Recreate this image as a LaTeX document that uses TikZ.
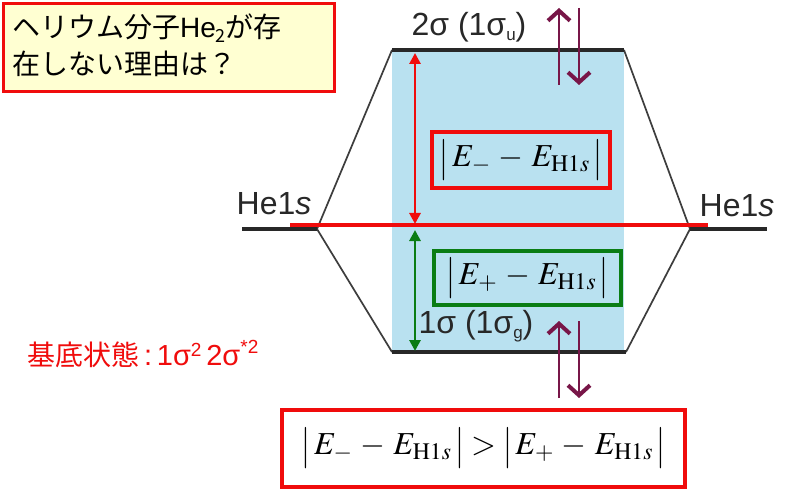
\documentclass[tikz,border=0pt]{standalone}
\usepackage{mathptmx}
\usepackage{graphicx}
\usepackage{fontspec}
\newfontfamily\jp{Noto Sans CJK JP}
\newfontfamily\arial{Liberation Sans}
\usetikzlibrary{arrows.meta}
\definecolor{boxred}{RGB}{240,12,12}
\definecolor{skyfill}{RGB}{185,225,240}
\definecolor{notefill}{RGB}{255,255,210}
\definecolor{levelgray}{RGB}{40,40,40}
\definecolor{elec}{RGB}{120,22,72}
\definecolor{grn}{RGB}{10,125,20}
\tikzset{
  level/.style={draw=levelgray,line width=3.8pt},
  slant/.style={draw=levelgray!90,line width=1.7pt},
  redline/.style={draw=boxred,line width=3.4pt},
  redarrow/.style={draw=boxred,line width=2.8pt,{Triangle[length=11pt,width=11pt]}-{Triangle[length=11pt,width=11pt]}},
  greenarrow/.style={draw=grn,line width=2.8pt,{Triangle[length=11pt,width=11pt]}-{Triangle[length=11pt,width=11pt]}},
  electron/.style={draw=elec,line width=2.4pt,-{Straight Barb[length=10pt,width=22pt,line width=4pt]}},
  mathbox/.style={draw=#1,line width=3.6pt,inner sep=0pt,font=\fontsize{32}{38}\selectfont},
  mlabel/.style={text=levelgray,font=\arial\fontsize{32}{36}\selectfont,inner sep=0pt},
}
\newcommand{\subsm}[1]{\raisebox{-0.3ex}{\fontsize{17}{17}\selectfont #1}}
\newcommand{\vbar}{\raisebox{-0.12em}{\scalebox{1}[1.3]{$\vert$}}}
\newcommand{\gapexpr}[1]{\vbar\,E_{#1}\,-\,E_{\mathrm{H1}s}\,\vbar}
\begin{document}
\begin{tikzpicture}[x=1pt,y=-1pt]
\useasboundingbox (0,0) rectangle (787,489);
\fill[white] (0,0) rectangle (787,489);
% blue band
\fill[skyfill] (392,50) rectangle (624,352);
% coordinates
\coordinate (TL) at (392,50);
\coordinate (TR) at (624,50);
\coordinate (BL) at (392,352);
\coordinate (BR) at (626,352);
\coordinate (LV) at (317,229);
\coordinate (RV) at (690,229);
\coordinate (LE) at (242,229);
\coordinate (RE) at (767,229);
\coordinate (RL1) at (290,225);
\coordinate (RL2) at (708,225);
% slanted correlation lines
\draw[slant] (TL) -- (LV) -- (BL);
\draw[slant] (TR) -- (RV) -- (BR);
% levels
\draw[level] (TL) -- (TR);
\draw[level] (BL) -- (BR);
\draw[level] (LE) -- (LV);
\draw[level] (RV) -- (RE);
% red reference line
\draw[redline] (RL1) -- (RL2);
% energy gap arrows
\coordinate (RA1) at (415,53);
\coordinate (RA2) at (415,224);
\coordinate (GA1) at (415,230);
\coordinate (GA2) at (415,351);
\draw[redarrow] (RA1) -- (RA2);
\draw[greenarrow] (GA1) -- (GA2);
% electrons
\coordinate (eu1) at (559,85);
\coordinate (eu2) at (559,8);
\coordinate (ed1) at (579,8);
\coordinate (ed2) at (579,85);
\coordinate (bu1) at (559,398);
\coordinate (bu2) at (559,321);
\coordinate (bd1) at (579,321);
\coordinate (bd2) at (579,398);
\draw[electron] (eu1) -- (eu2);
\draw[electron] (ed1) -- (ed2);
\draw[electron] (bu1) -- (bu2);
\draw[electron] (bd1) -- (bd2);
% labels
\node[mlabel] (sig2) at (469,27) {2σ (1σ\subsm{u})};
\node[mlabel] (sig1) at (476,326) {1σ (1σ\subsm{g})};
\node[mlabel] (heL) at (274,204) {He1\textit{s}};
\node[mlabel] (heR) at (737,206) {He1\textit{s}};
% gap boxes
\node[mathbox=boxred,minimum width=178pt,minimum height=56pt] (gapminus) at (521,160)
  {$\gapexpr{-}$};
\node[mathbox=grn,minimum width=187pt,minimum height=54pt] (gapplus) at (527.5,278)
  {$\gapexpr{+}$};
% title box
\node[draw=boxred,fill=notefill,line width=3pt,minimum width=331pt,minimum height=88pt,anchor=north west,inner sep=0pt] (titlebox) at (2,2) {};
\node[anchor=north west,align=left,inner sep=0pt,font=\jp\fontsize{28}{37}\selectfont] (title) at (12,14)
  {ヘリウム分子{\arial He}\raisebox{-0.3ex}{\fontsize{18}{18}\selectfont 2}が存\\在しない理由は？};
% ground state
\node[anchor=west,inner sep=0pt,text=boxred] (ground) at (27,354)
  {{\jp\fontsize{28}{30}\selectfont 基底状態}{\arial\fontsize{29}{30}\selectfont\,:\,1σ\raisebox{0.6ex}{\fontsize{19}{19}\selectfont 2}\,2σ\raisebox{0.75ex}{\fontsize{19}{19}\selectfont *2}}};
% comparison box
\node[mathbox=boxred,minimum width=403pt,minimum height=77pt] (compare) at (483.5,448.5)
  {$\gapexpr{-}>\gapexpr{+}$};
\end{tikzpicture}
\end{document}
